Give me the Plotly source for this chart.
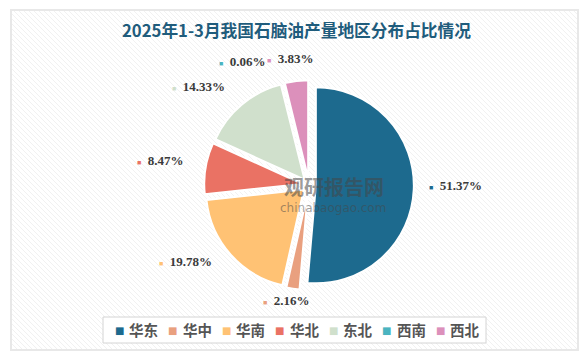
import math
import plotly.graph_objects as go

# ---- data ----
regions = ["华东", "华中", "华南", "华北", "东北", "西南", "西北"]
shares = [51.37, 2.16, 19.78, 8.47, 14.33, 0.06, 3.83]
colors = ["#1d6a8e", "#e9a07f", "#ffc274", "#ea7264", "#d0e0cc", "#4ab4c0", "#dc90bb"]
title_text = "2025年1-3月我国石脑油产量地区分布占比情况"

W, H = 588, 360
cx, cy = 309, 185          # pie centre (px, y down)
lx, ly = 305, 180          # origin used for label placement (text baseline offset)
pull = 0.07
r_px = 98
half = r_px * (1 + pull)


def px(x):
    return x / W


def py(y):
    return 1 - y / H


fig = go.Figure()

# background card with light diagonal hatch
card = (11, 10, 578, 350)
shapes = [dict(type="rect", xref="paper", yref="paper",
               x0=px(card[0]), x1=px(card[2]), y0=py(card[3]), y1=py(card[1]),
               fillcolor="white", line=dict(color="#e8e8e8", width=2), layer="below")]
segs = []
x0, y0, x1, y1 = card[0] + 1, card[1] + 1, card[2] - 1, card[3] - 1
c = x0 - y1
while c < x1 - y0:
    ya = max(y0, x0 - c)
    yb = min(y1, x1 - c)
    if ya < yb:
        segs.append("M%.5f,%.5f L%.5f,%.5f" % (px(ya + c), py(ya), px(yb + c), py(yb)))
    c += 5
shapes.append(dict(type="path", xref="paper", yref="paper", path=" ".join(segs),
                   line=dict(color="#f1f1f1", width=1), layer="below"))

fig.add_trace(go.Pie(
    labels=regions, values=shares, sort=False, direction="clockwise", rotation=0,
    pull=[pull] * len(shares),
    marker=dict(colors=colors, line=dict(color="white", width=2)),
    textinfo="none", hoverinfo="label+percent", showlegend=False,
    domain=dict(x=[px(cx - half), px(cx + half)],
                y=[py(cy + half), py(cy - half)]),
))

annotations = []

# outside labels computed from slice angles
total = sum(shares)
D = 122
labels = []
cum = 0
for v, col in zip(shares, colors):
    mid = (cum + v / 2) / total * 360
    cum += v
    s, cs = math.sin(math.radians(mid)), math.cos(math.radians(mid))
    ax = lx + D * s
    ay = ly - D * cs
    txt = "%.2f%%" % v
    w = 10 + 6.8 * len(txt)
    if s > 0.25:
        xa, left = "left", ax
    elif s < -0.25:
        xa, left = "right", ax - w
    else:
        xa, left = "center", ax - w / 2
    labels.append(dict(v=v, col=col, txt=txt, ax=ax, ay=ay, xa=xa, left=left, w=w))

# simple overlap resolution: push earlier label left of the following one
for i in range(len(labels) - 2, -1, -1):
    a, b = labels[i], labels[i + 1]
    if abs(a["ay"] - b["ay"]) < 14 and a["left"] + a["w"] > b["left"] - 4:
        shift = a["left"] + a["w"] - (b["left"] - 4)
        a["left"] -= shift
        a["ax"] -= shift

for L in labels:
    annotations.append(dict(
        x=px(L["ax"]), y=py(L["ay"]), xref="paper", yref="paper",
        xanchor=L["xa"], yanchor="middle", showarrow=False,
        text="<span style='color:%s;font-size:7px'>■</span>  <b>%s</b>" % (L["col"], L["txt"]),
        font=dict(family="Liberation Serif", size=13, color="#3a3a3a"),
    ))

# title
annotations.append(dict(x=px(296), y=py(30), xref="paper", yref="paper",
                        xanchor="center", yanchor="middle", showarrow=False,
                        text="<b>%s</b>" % title_text,
                        font=dict(family="Noto Sans CJK SC", size=16.7, color="#1f5c7c")))
# watermark
annotations.append(dict(x=px(334), y=py(186), xref="paper", yref="paper",
                        xanchor="center", yanchor="middle", showarrow=False,
                        text="<b>观研报告网</b>",
                        font=dict(family="Noto Sans CJK SC", size=20, color="rgba(70,70,70,0.55)")))
annotations.append(dict(x=px(333), y=py(208), xref="paper", yref="paper",
                        xanchor="center", yanchor="middle", showarrow=False,
                        text="chinabaogao.com",
                        font=dict(family="DejaVu Sans", size=12, color="rgba(70,70,70,0.5)")))

# custom legend (bordered box, small squares + names)
leg_box = (103, 317, 486, 343)
shapes.append(dict(type="rect", xref="paper", yref="paper",
                   x0=px(leg_box[0]), x1=px(leg_box[2]), y0=py(leg_box[3]), y1=py(leg_box[1]),
                   fillcolor="white", line=dict(color="#d4d4d4", width=1)))
step = 53.5
leg_cy = (leg_box[1] + leg_box[3]) / 2
start = (leg_box[0] + leg_box[2]) / 2 - step * len(regions) / 2
for i, (name, col) in enumerate(zip(regions, colors)):
    ix = start + i * step
    annotations.append(dict(x=px(ix + 12), y=py(leg_cy), xref="paper", yref="paper",
                            xanchor="center", yanchor="middle", showarrow=False,
                            text="■", font=dict(family="DejaVu Sans", size=10, color=col)))
    annotations.append(dict(x=px(ix + 20), y=py(leg_cy - 1), xref="paper", yref="paper",
                            xanchor="left", yanchor="middle", showarrow=False,
                            text="<b>%s</b>" % name,
                            font=dict(family="Noto Sans CJK SC", size=14.5, color="#555555")))

fig.update_layout(
    width=W, height=H, margin=dict(l=0, r=0, t=0, b=0, autoexpand=False),
    paper_bgcolor="white", plot_bgcolor="rgba(0,0,0,0)",
    showlegend=False,
    shapes=shapes, annotations=annotations,
)

fig.write_html("out.html", config={"displayModeBar": False},
               post_script="document.body.style.margin='0';document.body.style.overflow='hidden';")
